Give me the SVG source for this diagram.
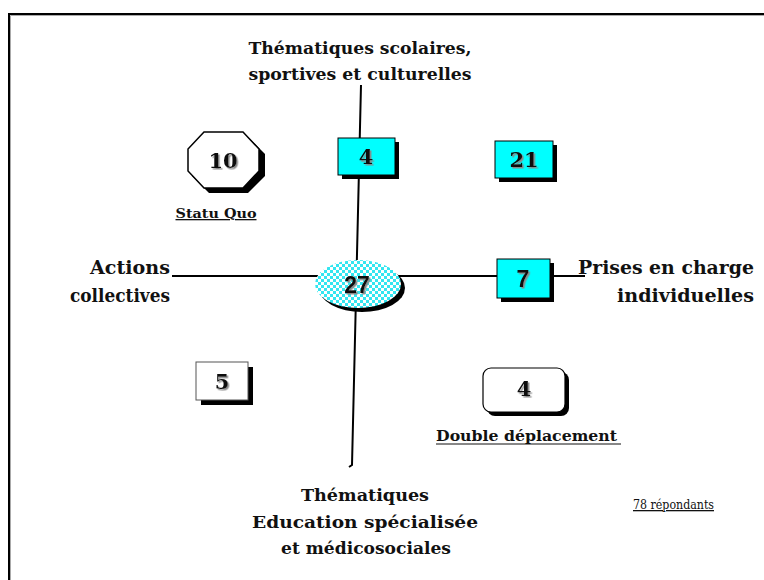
<svg xmlns="http://www.w3.org/2000/svg" width="764" height="580" viewBox="0 0 764 580">
  <defs>
    <pattern id="check" x="0" y="0" width="6" height="6" patternUnits="userSpaceOnUse">
      <rect width="6" height="6" fill="#ffffff"/>
      <rect width="3" height="3" fill="#33e6f0"/>
      <rect x="3" y="3" width="3" height="3" fill="#33e6f0"/>
    </pattern>
    <filter id="tshadow" x="-20%" y="-20%" width="140%" height="140%">
      <feDropShadow dx="1.5" dy="1.5" stdDeviation="0.4" flood-color="#8a8a8a" flood-opacity="1"/>
    </filter>
  </defs>
  <style>
    .lbl { font-family: "DejaVu Serif", "Liberation Serif", serif; font-weight: bold; fill: #111; }
    .num { font-family: "DejaVu Serif", "Liberation Serif", serif; font-weight: bold; font-size: 21px; text-anchor: middle; fill: #111; filter: url(#tshadow); }
    .nums { font-family: "Liberation Sans", Arial, sans-serif; font-weight: bold; font-size: 23px; text-anchor: middle; fill: #111; filter: url(#tshadow); }
    .axis { stroke: #000; stroke-width: 2; fill: none; }
    .cyan { fill: #00ffff; stroke: #000; stroke-width: 1; }
    .white { fill: #fff; stroke: #555; stroke-width: 1; }
    .drop { fill: #000; }
  </style>
  <rect width="764" height="580" fill="#fff"/>
  <!-- outer frame -->
  <path d="M9 590 V14 H780" fill="none" stroke="#000" stroke-width="2"/>
  <path d="M10.5 590 V15.5 H780" fill="none" stroke="#aaa" stroke-width="1"/>

  <g id="connectors">
    <path class="axis" d="M361 85 L352 465 L349 467"/>
    <path class="axis" d="M172 276 H585"/>
  </g>

  <g id="n-top-label">
    <text class="lbl" font-size="16" x="360" y="54" text-anchor="middle" textLength="223" lengthAdjust="spacingAndGlyphs">Thématiques scolaires,</text>
    <text class="lbl" font-size="16" x="360" y="80" text-anchor="middle" textLength="223" lengthAdjust="spacingAndGlyphs">sportives et culturelles</text>
  </g>
  <g id="n-left-label">
    <text class="lbl" font-size="19" x="170" y="274" text-anchor="end" textLength="80" lengthAdjust="spacingAndGlyphs">Actions</text>
    <text class="lbl" font-size="19" x="170" y="302" text-anchor="end" textLength="100" lengthAdjust="spacingAndGlyphs">collectives</text>
  </g>
  <g id="n-right-label">
    <text class="lbl" font-size="19" x="754" y="274" text-anchor="end" textLength="176" lengthAdjust="spacingAndGlyphs">Prises en charge</text>
    <text class="lbl" font-size="19" x="754" y="302" text-anchor="end" textLength="137" lengthAdjust="spacingAndGlyphs">individuelles</text>
  </g>
  <g id="n-bottom-label">
    <text class="lbl" font-size="17" x="365" y="501" text-anchor="middle" textLength="128" lengthAdjust="spacingAndGlyphs">Thématiques</text>
    <text class="lbl" font-size="17" x="365" y="528" text-anchor="middle" textLength="226" lengthAdjust="spacingAndGlyphs">Education spécialisée</text>
    <text class="lbl" font-size="17" x="366" y="554" text-anchor="middle" textLength="170" lengthAdjust="spacingAndGlyphs">et médicosociales</text>
  </g>

  <g id="n-statu-quo">
    <polygon class="drop" points="209,137 248,137 265,154 265,176 248,193 209,193 192,176 192,154"/>
    <polygon fill="#fff" stroke="#000" stroke-width="1.5" points="204,132 243,132 259,149 259,171 243,188 204,188 188,171 188,149"/>
    <text class="num" x="223" y="168">10</text>
    <text class="lbl" font-size="13" x="216" y="218" text-anchor="middle" text-decoration="underline" textLength="81" lengthAdjust="spacingAndGlyphs">Statu Quo</text>
  </g>

  <g id="n-top">
    <rect class="drop" x="342" y="142" width="57" height="37"/>
    <rect class="cyan" x="338" y="138" width="57" height="37"/>
    <text class="num" x="366" y="164">4</text>
  </g>

  <g id="n-21">
    <rect class="drop" x="499" y="145" width="58" height="37"/>
    <rect class="cyan" x="495" y="141" width="58" height="37"/>
    <text class="num" x="524" y="167">21</text>
  </g>

  <g id="n-center">
    <ellipse class="drop" cx="362" cy="288" rx="43" ry="24"/>
    <ellipse cx="358" cy="284" rx="43" ry="24" fill="url(#check)" stroke="none"/>
    <text class="nums" x="357" y="293">27</text>
  </g>

  <g id="n-right">
    <rect class="drop" x="501" y="263" width="53" height="39"/>
    <rect class="cyan" x="497" y="259" width="53" height="39"/>
    <text class="nums" x="523" y="287">7</text>
  </g>

  <g id="n-5">
    <rect class="drop" x="201" y="367" width="52" height="38"/>
    <rect class="white" x="196" y="362" width="52" height="38"/>
    <text class="num" x="222" y="389">5</text>
  </g>

  <g id="n-double">
    <rect class="drop" x="487" y="372" width="82" height="44" rx="8"/>
    <rect x="483" y="368" width="82" height="44" rx="8" fill="#fff" stroke="#000" stroke-width="1.2"/>
    <text class="num" x="524" y="396">4</text>
    <text class="lbl" font-size="14" x="436" y="441" textLength="181" lengthAdjust="spacingAndGlyphs">Double déplacement</text>
    <line x1="436" y1="444" x2="621" y2="444" stroke="#111" stroke-width="1.2"/>
  </g>

  <g id="n-respondents">
    <text x="633" y="509" font-family="DejaVu Serif, serif" font-size="13" fill="#111" text-decoration="underline" textLength="81" lengthAdjust="spacingAndGlyphs">78 répondants</text>
  </g>
</svg>
